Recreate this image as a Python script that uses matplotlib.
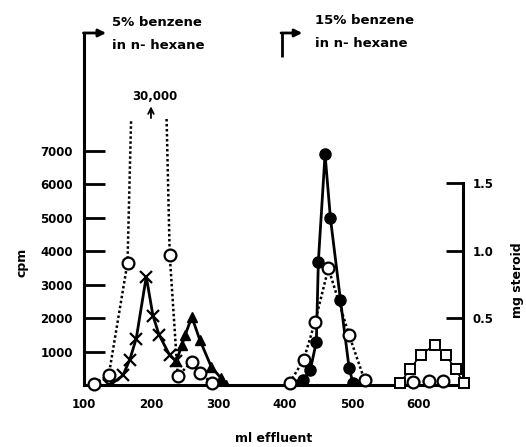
import matplotlib.pyplot as plt
from matplotlib.patches import Rectangle

plt.rcParams['font.family'] = 'DejaVu Sans'
plt.rcParams['font.weight'] = 'bold'

# open circles, dotted line (cpm)
circ1_ml = [115, 137, 165, 198, 228, 240, 261, 273, 291]
circ1_cpm = [50, 310, 3670, 30000, 3900, 280, 710, 360, 80]
circ2_ml = [407, 428, 445, 465, 496, 519]
circ2_cpm = [80, 760, 1900, 3500, 1500, 160]
circ3_ml = [591, 615, 636]
circ3_cpm = [100, 120, 120]

# crosses, solid line (cpm)
cross_ml = [138, 158, 168, 178, 193, 203, 212, 228, 238]
cross_cpm = [0, 300, 750, 1400, 3250, 2080, 1520, 900, 720]

# filled triangles, solid line (cpm)
tri_ml = [238, 246, 251, 261, 273, 290, 305, 312]
tri_cpm = [720, 1200, 1500, 2050, 1360, 560, 210, 0]

# filled circles, solid line (cpm)
dot_ml = [420, 427, 438, 447, 450, 460, 468, 483, 496, 502]
dot_cpm = [0, 160, 460, 1310, 3700, 6900, 5000, 2550, 510, 60]

# open squares (mg steroid)
sq_ml = [572, 587, 603, 624, 640, 655, 667]
sq_mg = [0.02, 0.12, 0.23, 0.30, 0.23, 0.12, 0.02]

cpm_ticks = [1000, 2000, 3000, 4000, 5000, 6000, 7000]
mg_ticks = [0.5, 1.0, 1.5]
ml_ticks = [100, 200, 300, 400, 500, 600]

cpm_top = 10520
cpm_per_mg = 4020
off_scale = 7950

fig = plt.figure(figsize=(5.26, 4.47), dpi=100)
ax = fig.add_axes([0.1597, 0.1376, 0.7205, 0.7886])
ax.set_xlim(100, 666)
ax.set_ylim(0, cpm_top)

dotted = (0, (1, 1))
clip = Rectangle((90, -1000), 600, off_scale + 1000, transform=ax.transData)

# dotted open-circle curves
for xs, ys in [(circ1_ml, circ1_cpm), (circ2_ml, circ2_cpm), (circ3_ml, circ3_cpm)]:
    ln, = ax.plot(xs, ys, color='k', lw=1.8, ls=dotted, zorder=2)
    ln.set_clip_path(clip)
    keep = [i for i, v in enumerate(ys) if v < off_scale]
    ax.plot([xs[i] for i in keep], [ys[i] for i in keep], ls='none', marker='o',
            ms=8.5, mfc='white', mec='k', mew=1.6, zorder=4, clip_on=False)

ax.plot(cross_ml, cross_cpm, color='k', lw=2, marker='x', ms=9, mew=1.6, zorder=3)
ax.plot(tri_ml, tri_cpm, color='k', lw=2, marker='^', ms=7.5, zorder=3)
ax.plot(dot_ml, dot_cpm, color='k', lw=2, marker='o', ms=8, zorder=3)

# right axis, mg steroid
ax2 = ax.twinx()
ax2.set_ylim(0, cpm_top / cpm_per_mg)
ax2.plot(sq_ml, sq_mg, color='k', lw=1.2, marker='s', ms=7.5, mfc='white',
         mec='k', mew=1.4, zorder=3, clip_on=False)

for a in (ax, ax2):
    a.spines['top'].set_visible(False)
    for s in a.spines.values():
        s.set_linewidth(2.2)
ax.spines['right'].set_visible(False)
ax2.spines['left'].set_visible(False)
ax2.spines['bottom'].set_visible(False)
ax2.spines['right'].set_bounds(0, 1.5)

ax.set_yticks(cpm_ticks)
ax.tick_params(axis='y', direction='in', length=15, width=2, pad=8, labelsize=8.5)
ax.set_xticks(ml_ticks)
ax.tick_params(axis='x', which='major', length=0, pad=9, labelsize=8.5)
ax.set_xticks([200, 400], minor=True)
ax.tick_params(axis='x', which='minor', direction='in', length=11, width=1.5)

ax2.set_yticks(mg_ticks)
ax2.set_yticklabels(['0.5', '1.0', '1.5'])
ax2.tick_params(axis='y', direction='in', length=12, width=2, pad=7, labelsize=8.5)

# off-scale peak
ax.text(206, 8620, '30,000', ha='center', va='center', fontsize=8.5)
ax.annotate('', xy=(200, 8330), xytext=(200, 7980),
            arrowprops=dict(arrowstyle='->', lw=1.3, color='k', shrinkA=0, shrinkB=0))

# solvent changes
ax.annotate('', xy=(133, cpm_top), xytext=(99.2, cpm_top), annotation_clip=False,
            arrowprops=dict(arrowstyle='-|>', lw=2, color='k', shrinkA=0, shrinkB=0,
                            mutation_scale=11))
ax.plot([395, 395], [9800, cpm_top], color='k', lw=2, clip_on=False,
        solid_capstyle='butt')
ax.annotate('', xy=(426, cpm_top), xytext=(394.3, cpm_top), annotation_clip=False,
            arrowprops=dict(arrowstyle='-|>', lw=2, color='k', shrinkA=0, shrinkB=0,
                            mutation_scale=11))
ax.text(142, 10820, '5% benzene', ha='left', va='center', fontsize=9.5)
ax.text(142, 10160, 'in n- hexane', ha='left', va='center', fontsize=9.5)
ax.text(445, 10880, '15% benzene', ha='left', va='center', fontsize=9.5)
ax.text(445, 10200, 'in n- hexane', ha='left', va='center', fontsize=9.5)

fig.text(273.5 / 526, 1 - 439 / 447, 'ml effluent', ha='center', va='center', fontsize=9)
fig.text(22 / 526, 1 - 262 / 447, 'cpm', rotation=90, ha='center', va='center', fontsize=9)
fig.text(517 / 526, 1 - 280 / 447, 'mg steroid', rotation=90, ha='center', va='center',
         fontsize=9)

fig.savefig('out.png', dpi=100)
